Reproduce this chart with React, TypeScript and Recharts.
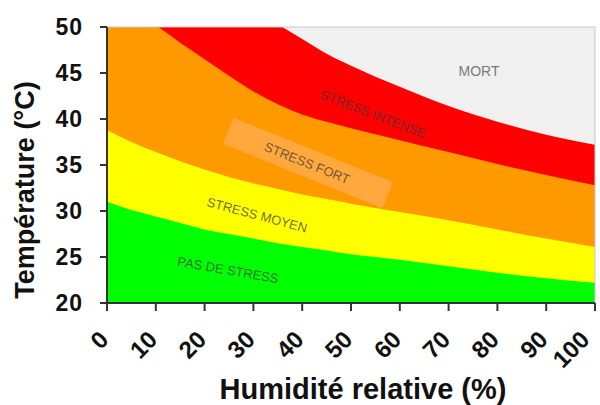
import { AreaChart, Area, XAxis, YAxis, CartesianGrid, ReferenceLine } from "recharts"

// relative humidity (%) sampled along the x axis
const humidity = [0, 5, 10, 15, 20, 25, 30, 35, 40, 45, 50, 60, 70, 80, 90, 100]

// upper temperature limit (°C) of each zone
// (values above 50 run past the top of the plot and get clipped)
const intenseTop = [64.3, 62, 59.8, 57.7, 55.7, 53.8, 52, 50.3, 48.7, 47.1, 45.8, 43.5, 41.4, 39.7, 38.3, 37.2]
const fortTop = [54, 52, 50.2, 48.3, 46.5, 44.7, 43.0, 41.6, 40.5, 39.7, 39.0, 37.7, 36.4, 35.1, 33.9, 32.8]
const moyenTop = [38.8, 37.5, 36.4, 35.4, 34.5, 33.7, 33.0, 32.4, 31.8, 31.3, 30.8, 29.9, 29.0, 28.0, 27.0, 26.1]
const pasTop = [31.0, 30.1, 29.4, 28.7, 28.0, 27.5, 27.0, 26.5, 26.1, 25.7, 25.3, 24.7, 24.0, 23.3, 22.7, 22.2]

const xTicks = [0, 10, 20, 30, 40, 50, 60, 70, 80, 90, 100]
const yTicks = [20, 25, 30, 35, 40, 45, 50]

const data = humidity.map((h, i) => ({
  h,
  intense: intenseTop[i],
  fort: fortTop[i],
  moyen: moyenTop[i],
  pas: pasTop[i],
}))

const FONT = "'Liberation Sans', Arial, sans-serif"

const XTick = ({ x, y, payload }: any) => {
  const tx = x + 3
  const ty = y + 30
  return (
    <text
      x={tx}
      y={ty}
      transform={`rotate(-45 ${tx} ${ty})`}
      textAnchor="end"
      fontFamily={FONT}
      fontWeight="bold"
      fontSize={24}
      fill="#111"
    >
      {payload.value}
    </text>
  )
}

const zoneText = { fontFamily: FONT, fontSize: 13, fill: "#3a3a3a", fillOpacity: 0.75 }

export default function App() {
  return (
    <div style={{ position: "absolute", left: 0, top: 0, width: 600, height: 405, background: "#fff" }}>
      <AreaChart width={600} height={405} data={data} margin={{ top: 27, right: 5, bottom: 0, left: 0 }}>
        <CartesianGrid horizontal={false} vertical={false} fill="#f0f0f0" />
        <XAxis
          dataKey="h"
          type="number"
          domain={[0, 100]}
          ticks={xTicks}
          height={102}
          tickSize={8}
          tickMargin={0}
          tick={<XTick />}
          axisLine={{ stroke: "#333", strokeWidth: 2 }}
          tickLine={{ stroke: "#333", strokeWidth: 2 }}
        />
        <YAxis
          type="number"
          domain={[20, 50]}
          ticks={yTicks}
          width={107}
          tickSize={7}
          tickMargin={17}
          allowDataOverflow
          axisLine={{ stroke: "#333", strokeWidth: 2 }}
          tickLine={{ stroke: "#333", strokeWidth: 2 }}
          tick={{ fontFamily: FONT, fontWeight: "bold", fontSize: 23, fill: "#111", letterSpacing: 1 }}
        />
        <ReferenceLine y={50} stroke="#c8c8c8" />
        <ReferenceLine x={100} stroke="#c8c8c8" />
        <Area type="monotone" dataKey="intense" stroke="none" fill="#ff0000" fillOpacity={1} isAnimationActive={false} />
        <Area type="monotone" dataKey="fort" stroke="none" fill="#ff9900" fillOpacity={1} isAnimationActive={false} />
        <Area type="monotone" dataKey="moyen" stroke="none" fill="#ffff00" fillOpacity={1} isAnimationActive={false} />
        <Area type="monotone" dataKey="pas" stroke="none" fill="#00ff00" fillOpacity={1} isAnimationActive={false} />
      </AreaChart>

      <svg width={600} height={405} style={{ position: "absolute", left: 0, top: 0, pointerEvents: "none" }}>
        <rect x={222} y={149} width={172} height={28} fill="#ffb366" fillOpacity={0.6} transform="rotate(22 308 163)" />
        <text x={373} y={114} textAnchor="middle" dominantBaseline="central" transform="rotate(21 373 114)" {...zoneText}>
          STRESS INTENSE
        </text>
        <text x={307} y={163} textAnchor="middle" dominantBaseline="central" transform="rotate(22 307 163)" {...zoneText}>
          STRESS FORT
        </text>
        <text x={257} y={215} textAnchor="middle" dominantBaseline="central" transform="rotate(15 257 215)" {...zoneText}>
          STRESS MOYEN
        </text>
        <text x={228} y={270} textAnchor="middle" dominantBaseline="central" transform="rotate(10 228 270)" {...zoneText}>
          PAS DE STRESS
        </text>
        <text x={479} y={71} textAnchor="middle" dominantBaseline="central" fontFamily={FONT} fontSize={14} fill="#7a7a7a">
          MORT
        </text>
        <text
          x={25}
          y={190}
          textAnchor="middle"
          dominantBaseline="central"
          transform="rotate(-90 25 190)"
          fontFamily={FONT}
          fontWeight="bold"
          fontSize={27}
          fill="#111"
        >
          Température (°C)
        </text>
        <text x={363} y={399} textAnchor="middle" fontFamily={FONT} fontWeight="bold" fontSize={29} fill="#111">
          Humidité relative (%)
        </text>
      </svg>
    </div>
  )
}
